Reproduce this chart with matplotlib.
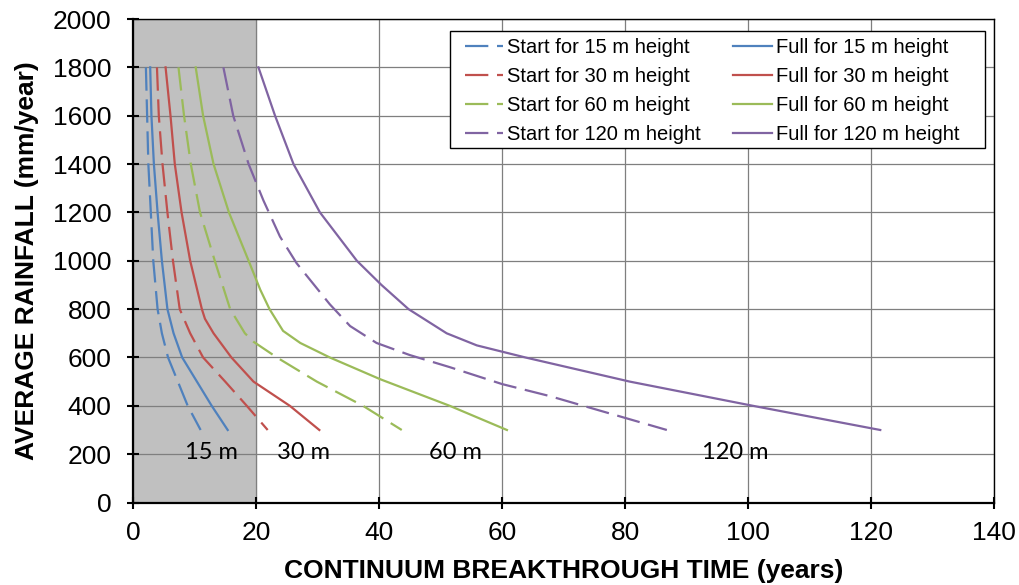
import matplotlib.pyplot as plt
from matplotlib.patches import Rectangle

plt.rcParams['font.family'] = ['Liberation Sans', 'DejaVu Sans']

# average rainfall (mm/year) vs breakthrough time (years)
start15_y = [1800, 1600, 1400, 1200, 1000, 800, 700, 600, 500, 400, 300]
start15_x = [2.1, 2.3, 2.5, 2.9, 3.3, 4.0, 4.7, 5.7, 7.3, 8.9, 11.0]
full15_y = [1800, 1600, 1400, 1200, 1000, 800, 700, 600, 500, 400, 300]
full15_x = [2.8, 3.0, 3.4, 4.0, 4.7, 5.6, 6.6, 8.0, 10.4, 12.8, 15.4]

start30_y = [1800, 1600, 1400, 1200, 1000, 800, 700, 600, 500, 400, 300]
start30_x = [3.9, 4.2, 4.8, 5.6, 6.5, 7.6, 9.3, 11.4, 15.0, 18.5, 21.9]
full30_y = [1800, 1600, 1400, 1200, 1000, 800, 760, 700, 600, 500, 400, 300]
full30_x = [5.3, 6.1, 6.8, 7.9, 9.3, 11.2, 11.7, 13.1, 16.0, 19.6, 25.5, 30.3]

start60_y = [1800, 1600, 1400, 1200, 1000, 800, 700, 665, 600, 500, 400, 300]
start60_x = [7.4, 8.3, 9.4, 10.9, 13.3, 15.8, 18.2, 19.6, 23.4, 29.9, 37.4, 43.7]
full60_y = [1800, 1600, 1400, 1200, 1000, 880, 800, 710, 660, 600, 510, 400, 300]
full60_x = [10.2, 11.4, 13.1, 15.6, 18.8, 20.7, 22.2, 24.4, 27.2, 32.0, 40.2, 51.5, 60.8]

start120_y = [1800, 1600, 1400, 1250, 1100, 990, 820, 730, 660, 610, 560, 490, 440, 300]
start120_x = [14.7, 16.3, 18.8, 21.2, 23.9, 26.6, 32.0, 35.3, 39.6, 45.0, 51.5, 60.0, 67.8, 86.8]
full120_y = [1800, 1600, 1400, 1200, 1000, 900, 800, 700, 650, 600, 500, 400, 300]
full120_x = [20.4, 23.1, 26.1, 30.4, 36.4, 40.4, 44.8, 51.0, 55.9, 63.8, 80.8, 100.8, 121.5]

heights = ["15", "30", "60", "120"]
colors = ["#4F81BD", "#C0504D", "#9BBB59", "#8064A2"]
label_x = [12.7, 27.8, 52.5, 98.0]

starts = [(start15_x, start15_y), (start30_x, start30_y),
          (start60_x, start60_y), (start120_x, start120_y)]
fulls = [(full15_x, full15_y), (full30_x, full30_y),
         (full60_x, full60_y), (full120_x, full120_y)]

fig = plt.figure(figsize=(10.19, 5.85), dpi=100)
ax = fig.add_axes([0.1305, 0.141, 0.845, 0.8265])

ax.axvspan(0, 20, color="#C0C0C0", zorder=0)

dash = (0, (10.5, 3.9))
handles = []
for h, c, (sx, sy) in zip(heights, colors, starts):
    ln, = ax.plot(sx, sy, color=c, lw=1.6, linestyle=dash,
                  label=f"Start for {h} m height", zorder=3)
    handles.append(ln)
for h, c, (fx, fy) in zip(heights, colors, fulls):
    ln, = ax.plot(fx, fy, color=c, lw=1.6, label=f"Full for {h} m height", zorder=3)
    handles.append(ln)

for h, lx in zip(heights, label_x):
    ax.text(lx, 205, f"{h} m", ha="center", va="center", fontsize=17,
            family=["Lato", "DejaVu Sans"], zorder=4)

ax.set_xlim(0, 140)
ax.set_ylim(0, 2000)
ax.set_xticks(range(0, 141, 20))
ax.set_yticks(range(0, 2001, 200))
ax.grid(True, color="#7F7F7F", lw=0.9, zorder=1)
ax.set_axisbelow(True)
ax.tick_params(direction="inout", length=9, width=1.5, labelsize=19)
ax.tick_params(axis="x", pad=9)
ax.tick_params(axis="y", pad=11)
for side in ["left", "bottom"]:
    ax.spines[side].set_linewidth(1.6)
for side in ["top", "right"]:
    ax.spines[side].set_linewidth(1.0)

ax.set_xlabel("CONTINUUM BREAKTHROUGH TIME (years)", fontsize=19,
              fontweight="bold", labelpad=10)
ax.set_ylabel("AVERAGE RAINFALL (mm/year)", fontsize=19,
              fontweight="bold", labelpad=10)

# Excel-style legend box: wider padding on the sides than matplotlib gives
box = Rectangle((0.3682, 0.7332), 0.6213, 0.242, transform=ax.transAxes,
                facecolor="white", edgecolor="black", lw=1.0, zorder=5)
ax.add_patch(box)
leg = ax.legend(handles=handles, ncol=2, loc="upper left",
                bbox_to_anchor=(0.3856, 0.961), fontsize=14.5, frameon=False,
                handlelength=1.9, handletextpad=0.2, columnspacing=1.6,
                labelspacing=0.5, borderpad=0, borderaxespad=0)
leg.set_zorder(6)

fig.savefig("out.png", dpi=100)
